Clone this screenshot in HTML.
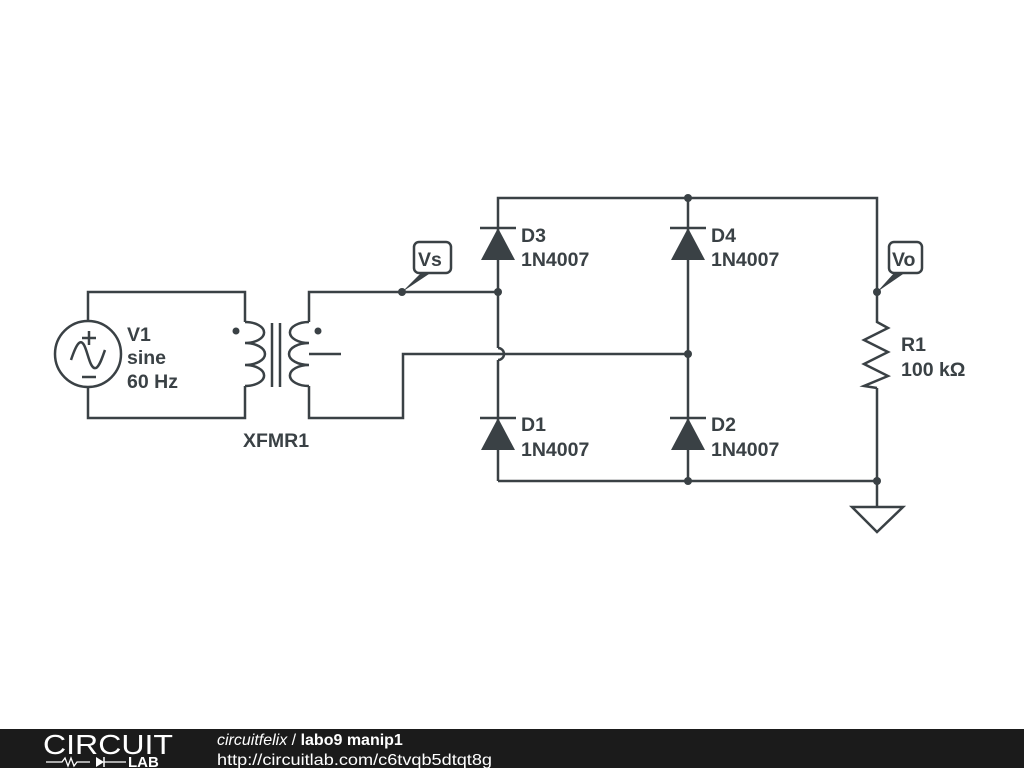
<!DOCTYPE html>
<html><head><style>
html,body{margin:0;padding:0;background:#fff;width:1024px;height:768px;overflow:hidden}
svg{display:block}
text{font-family:"Liberation Sans",Arial,sans-serif;font-weight:bold;fill:#3a4145;font-size:19.5px}
</style></head><body>
<svg width="1024" height="768" viewBox="0 0 1024 768">
<g stroke="#3a4145" stroke-width="2.5" fill="none">
<polyline points="88,321 88,292 245,292 245,322"/>
<polyline points="88,387 88,418 245,418 245,386"/>
<circle cx="88" cy="354" r="33"/>
<line x1="82" y1="338" x2="96" y2="338"/><line x1="89" y1="331" x2="89" y2="345"/>
<line x1="82" y1="377" x2="96" y2="377"/>
<path d="M71,360 C76,345 80,338 84,345 C88,352 90,370 96,368 C100,366 103,355 105,350"/>
<path d="M245,322 a10,5.5 0 0 1 0,21 a10,5.5 0 0 1 0,22 a10,5.5 0 0 1 0,21"/>
<line x1="272" y1="323" x2="272" y2="387"/><line x1="280" y1="323" x2="280" y2="387"/>
<path d="M309,322 a10,5.5 0 0 0 0,21 a10,5.5 0 0 0 0,22 a10,5.5 0 0 0 0,21"/>
<polyline points="309,322 309,292 498,292"/>
<polyline points="309,386 309,418 403,418 403,354 688,354"/>
<line x1="309" y1="354" x2="341" y2="354"/>
<polyline points="498,348 498,198 877,198 877,320"/>
<path d="M498,348 a6,6 0 0 1 0,12"/>
<line x1="498" y1="360" x2="498" y2="481"/>
<line x1="688" y1="198" x2="688" y2="481"/>
<polyline points="498,481 877,481 877,388"/>
<line x1="877" y1="481" x2="877" y2="507"/>
<polygon points="852,507 903,507 877,532"/>
<polyline points="877,320 877,322 888,328 864,340 888,352 864,364 888,376 864,386 877,388"/>
<line x1="480" y1="228" x2="516" y2="228"/><line x1="670" y1="228" x2="706" y2="228"/>
<line x1="480" y1="418" x2="516" y2="418"/><line x1="670" y1="418" x2="706" y2="418"/>
<rect x="414" y="242" width="37" height="31" rx="5" fill="#fff"/>
<rect x="889" y="242" width="33" height="31" rx="5" fill="#fff"/>
</g>
<g fill="#3a4145">
<polygon points="498,228 481,260 515,260"/><polygon points="688,228 671,260 705,260"/>
<polygon points="498,418 481,450 515,450"/><polygon points="688,418 671,450 705,450"/>
<polygon points="402,292 422,272 432,272"/><polygon points="877,292 895,272 906,272"/>
<circle cx="402" cy="292" r="4"/><circle cx="498" cy="292" r="4"/>
<circle cx="688" cy="198" r="4"/><circle cx="688" cy="354" r="4"/>
<circle cx="688" cy="481" r="4"/><circle cx="877" cy="481" r="4"/><circle cx="877" cy="292" r="4"/>
<circle cx="236" cy="331" r="3.5"/><circle cx="318" cy="331" r="3.5"/>
</g>
<text x="418" y="266">Vs</text><text x="892" y="266">Vo</text>
<text x="127" y="341">V1</text><text x="127" y="364">sine</text><text x="127" y="388">60 Hz</text>
<text x="243" y="447">XFMR1</text>
<text x="521" y="242">D3</text><text x="521" y="266">1N4007</text>
<text x="711" y="242">D4</text><text x="711" y="266">1N4007</text>
<text x="521" y="431">D1</text><text x="521" y="456">1N4007</text>
<text x="711" y="431">D2</text><text x="711" y="456">1N4007</text>
<text x="901" y="351">R1</text><text x="901" y="376">100 kΩ</text>
<rect x="0" y="729" width="1024" height="39" fill="#1b1b1b"/>
<text x="43" y="754" textLength="130" lengthAdjust="spacingAndGlyphs" style="font-weight:normal;fill:#fff;font-size:28px">CIRCUIT</text>
<text x="128" y="767" style="fill:#fff;font-size:15px">LAB</text>
<polyline points="46,762 62,762 65,758 68,766 71,758 74,766 77,762 90,762" stroke="#fff" stroke-width="1.3" fill="none"/>
<polygon points="96,757 96,767 104,762" fill="#fff"/><line x1="104" y1="757" x2="104" y2="767" stroke="#fff" stroke-width="1.5"/>
<line x1="104" y1="762" x2="126" y2="762" stroke="#fff" stroke-width="1.3"/>
<text x="217" y="745" style="fill:#fff;font-size:16px"><tspan style="font-style:italic;font-weight:normal">circuitfelix</tspan><tspan style="font-weight:normal"> / </tspan>labo9 manip1</text>
<text x="217" y="765" textLength="275" lengthAdjust="spacingAndGlyphs" style="fill:#fff;font-weight:normal;font-size:16px">http://circuitlab.com/c6tvqb5dtqt8g</text>
</svg>
</body></html>
